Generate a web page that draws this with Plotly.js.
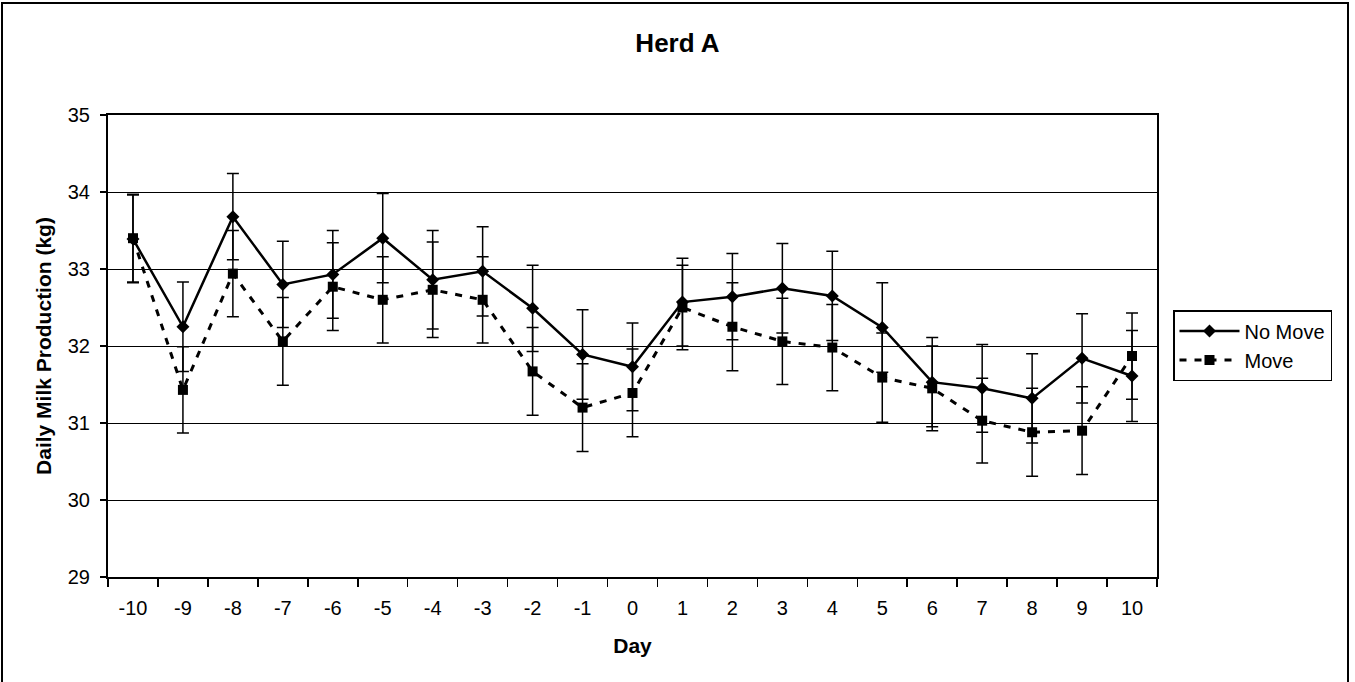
<!DOCTYPE html>
<html>
<head>
<meta charset="utf-8">
<script src="https://cdn.plot.ly/plotly-3.0.1.min.js"></script>
<style>
  html, body { margin: 0; padding: 0; background: #fff; }
  #chart { width: 1355px; height: 682px; }
</style>
</head>
<body>
<div id="chart"></div>
<script>
const days = ["-10","-9","-8","-7","-6","-5","-4","-3","-2","-1","0","1","2","3","4","5","6","7","8","9","10"];
const noMove = [33.39, 32.25, 33.68, 32.80, 32.93, 33.40, 32.86, 32.97, 32.49, 31.89, 31.73, 32.57, 32.64, 32.75, 32.65, 32.24, 31.53, 31.45, 31.32, 31.84, 31.61];
const noMoveErr = [0.57, 0.58, 0.56, 0.56, 0.57, 0.58, 0.64, 0.58, 0.56, 0.58, 0.57, 0.57, 0.56, 0.58, 0.58, 0.58, 0.58, 0.57, 0.58, 0.58, 0.59];
const move = [33.40, 31.43, 32.94, 32.06, 32.77, 32.60, 32.73, 32.60, 31.67, 31.20, 31.39, 32.50, 32.25, 32.06, 31.98, 31.59, 31.45, 31.03, 30.88, 30.90, 31.87];
const moveErr = [0.57, 0.56, 0.56, 0.57, 0.57, 0.56, 0.62, 0.56, 0.57, 0.57, 0.57, 0.55, 0.57, 0.56, 0.56, 0.58, 0.55, 0.55, 0.57, 0.57, 0.56];
const yTicks = [29, 30, 31, 32, 33, 34, 35];

const FONT = "Liberation Sans, Arial, Helvetica, sans-serif";

const traces = [
  {
    x: days, y: noMove, name: "No Move", type: "scatter", mode: "lines+markers",
    line: { color: "#000", width: 2.5 },
    marker: { symbol: "diamond", size: 10, color: "#000" },
    error_y: { type: "data", array: noMoveErr, visible: true, color: "#000", thickness: 1.5, width: 6 }
  },
  {
    x: days, y: move, name: "Move", type: "scatter", mode: "lines+markers",
    line: { color: "#000", width: 3, dash: "7px,8px" },
    marker: { symbol: "square", size: 10, color: "#000" },
    error_y: { type: "data", array: moveErr, visible: true, color: "#000", thickness: 1.5, width: 6 }
  }
];

const layout = {
  width: 1355, height: 682,
  margin: { l: 108, r: 198, t: 115, b: 105 },
  paper_bgcolor: "#fff", plot_bgcolor: "#fff",
  font: { family: FONT, size: 20, color: "#000" },
  title: {
    text: "<b>Herd A</b>", font: { family: FONT, size: 26, color: "#000" },
    x: 0.5, xref: "container", xanchor: "center",
    y: 1 - 43 / 682, yref: "container", yanchor: "middle"
  },
  xaxis: {
    type: "category", categoryorder: "array", categoryarray: days,
    range: [-0.5, days.length - 0.5], autorange: false,
    tickson: "boundaries", ticks: "outside", ticklen: 8, tickwidth: 1.5, tickcolor: "#000",
    showline: true, linecolor: "#000", linewidth: 2, mirror: true,
    showgrid: false, zeroline: false,
    tickfont: { family: FONT, size: 20, color: "#000" },
    ticklabelstandoff: 12,
    title: { text: "<b>Day</b>", font: { family: FONT, size: 21, color: "#000" }, standoff: 20 },
    automargin: false, fixedrange: true
  },
  yaxis: {
    range: [29, 35], tickvals: yTicks, ticktext: yTicks.map(String),
    ticks: "outside", ticklen: 6, tickwidth: 1.5, tickcolor: "#000",
    showline: true, linecolor: "#000", linewidth: 2, mirror: true,
    showgrid: true, gridcolor: "#000", gridwidth: 1, zeroline: false,
    tickfont: { family: FONT, size: 20, color: "#000" },
    ticklabelstandoff: 6,
    title: { text: "<b>Daily Milk Production (kg)</b>", font: { family: FONT, size: 21, color: "#000" }, standoff: 10 },
    automargin: false, fixedrange: true
  },
  legend: {
    x: (1173 - 108) / 1049, xanchor: "left",
    y: (577 - 310) / 462, yanchor: "top",
    bordercolor: "#000", borderwidth: 1.5, bgcolor: "#fff",
    font: { family: FONT, size: 20, color: "#000" },
    itemwidth: 60, tracegroupgap: 0
  },
  shapes: [
    {
      type: "rect", xref: "paper", yref: "paper",
      x0: (2 - 108) / 1049, x1: (1348 - 108) / 1049,
      y0: (577 - 700) / 462, y1: (577 - 3) / 462,
      line: { color: "#000", width: 2 }, fillcolor: "rgba(0,0,0,0)", layer: "below"
    }
  ],
  showlegend: true
};

Plotly.newPlot("chart", traces, layout, { displayModeBar: false, staticPlot: true });
</script>
</body>
</html>
